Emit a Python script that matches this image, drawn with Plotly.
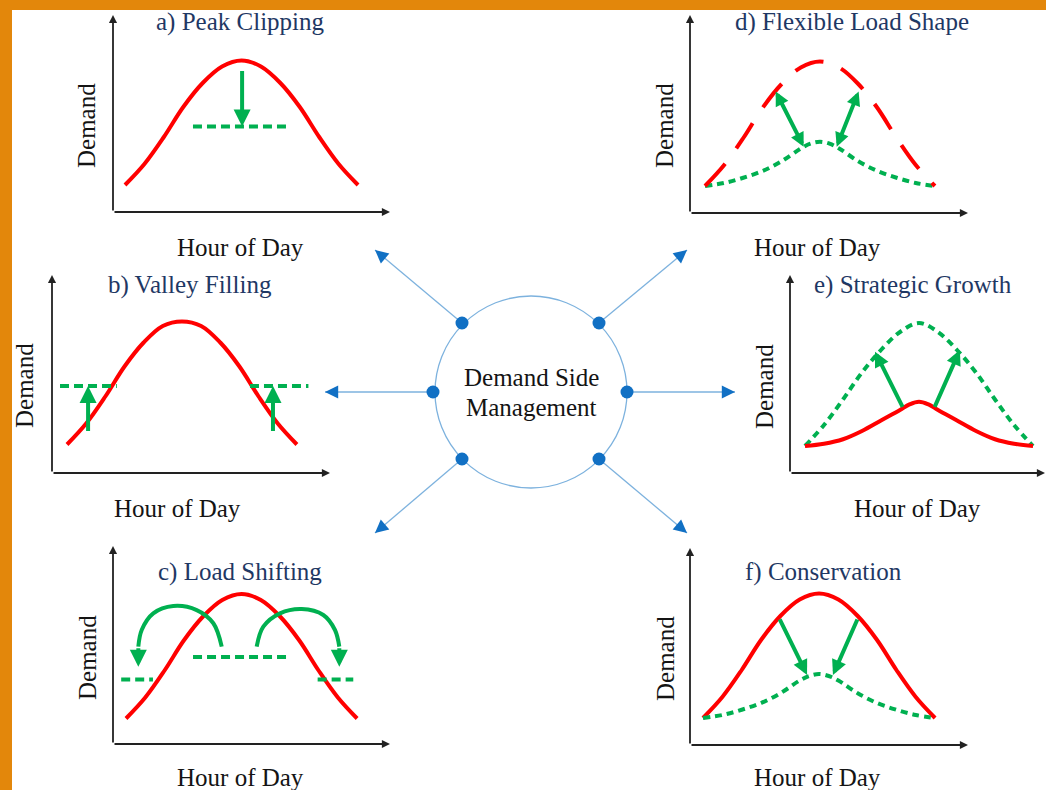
import plotly.graph_objects as go

W, H = 1046, 790
PX_PER_UNIT = 150.0  # vertical pixels per demand unit (layout constant)

# ------------------------------------------------------------------ data
HOURS = [0, 2, 4, 6, 8, 10, 12, 14, 16, 18, 20, 22, 24]
HOURS_FINE = [0, 2, 4, 6, 8, 10, 11, 12, 13, 14, 16, 18, 20, 22, 24]

# a) Peak Clipping
a_demand = [0.18, 0.32, 0.50, 0.70, 0.86, 0.97, 1.01, 0.97, 0.86, 0.70, 0.50, 0.32, 0.18]
a_clip_hours = [7.0, 16.6]
a_clip_level = 0.57
a_arrow_hour = 12.06
a_arrow_from = 0.95

# b) Valley Filling
b_demand = [0.19, 0.33, 0.51, 0.71, 0.87, 0.98, 1.01, 0.98, 0.87, 0.71, 0.51, 0.33, 0.19]
b_fill_level = 0.58
b_fill_left_hours = [-0.73, 5.2]
b_fill_right_hours = [19.1, 25.2]
b_arrow_hours = [2.2, 21.5]
b_arrow_from = 0.27

# c) Load Shifting
c_demand = [0.17, 0.31, 0.49, 0.69, 0.85, 0.96, 1.00, 0.96, 0.85, 0.69, 0.49, 0.31, 0.17]
c_peak_hours = [6.96, 16.7]
c_peak_level = 0.58
c_offpeak_left_hours = [-0.5, 2.8]
c_offpeak_right_hours = [19.9, 23.6]
c_offpeak_level = 0.43
c_left_arc_hours = [9.94, 9.07, 7.34, 4.91, 2.83, 1.63, 1.28]
c_left_arc_demand = [0.649, 0.805, 0.893, 0.92, 0.871, 0.76, 0.649]
c_right_arc_hours = [13.57, 14.26, 15.99, 18.25, 20.49, 21.7, 22.15]
c_right_arc_demand = [0.649, 0.782, 0.871, 0.90, 0.86, 0.76, 0.649]
c_arc_tip_demand = 0.515

# d) Flexible Load Shape
d_original = [0.18, 0.32, 0.50, 0.70, 0.86, 0.97, 1.01, 0.97, 0.86, 0.70, 0.50, 0.32, 0.18]
d_flexible = [0.18, 0.20, 0.235, 0.28, 0.345, 0.43, 0.462, 0.475, 0.462, 0.43, 0.345, 0.28, 0.235, 0.20, 0.18]
d_arrow_hi_hours = [7.3, 16.1]
d_arrow_hi_demand = [0.82, 0.82]
d_arrow_lo_hours = [10.3, 13.75]
d_arrow_lo_demand = [0.442, 0.442]

# e) Strategic Growth
e_original = [0.18, 0.195, 0.225, 0.28, 0.35, 0.42, 0.457, 0.475, 0.457, 0.42, 0.35, 0.28, 0.225, 0.195, 0.18]
e_growth = [0.18, 0.32, 0.49, 0.67, 0.82, 0.94, 1.00, 0.94, 0.82, 0.67, 0.49, 0.32, 0.18]
e_arrow_from_hours = [10.35, 13.58]
e_arrow_from_demand = [0.431, 0.431]
e_arrow_to_hours = [7.37, 16.3]
e_arrow_to_demand = [0.809, 0.82]

# f) Conservation
f_original = [0.18, 0.32, 0.50, 0.70, 0.86, 0.97, 1.01, 0.97, 0.86, 0.70, 0.50, 0.32, 0.18]
f_conserved = [0.18, 0.20, 0.235, 0.28, 0.345, 0.43, 0.460, 0.473, 0.460, 0.43, 0.345, 0.28, 0.235, 0.20, 0.18]
f_arrow_from_hours = [7.86, 16.03]
f_arrow_from_demand = [0.847, 0.847]
f_arrow_to_hours = [10.76, 13.44]
f_arrow_to_demand = [0.467, 0.467]

titles = ["a) Peak Clipping", "b) Valley Filling", "c) Load Shifting",
          "d) Flexible Load Shape", "e) Strategic Growth", "f) Conservation"]
x_label = "Hour of Day"
y_label = "Demand"
center_text = ["Demand Side", "Management"]

# ------------------------------------------------------------------ styles / layout constants
RED = "#FF0000"
GREEN = "#00B050"
NAVY = "#1F3864"
TXT = "#141414"
ORANGE = "#E3870B"
LIGHT_BLUE = "#7DB2DE"
DARK_BLUE = "#1170C4"
FONT = "Liberation Serif, Times New Roman, serif"
FS = 25

# panel geometry in pixels: axis origin, arrow tips, curve start, px per hour
panels = {
    "a": dict(ox=113, oy=212, xt=390, yt=15, cs=125, pph=9.71, title=(240, 22), xl=(240, 247), yl=(87, 126)),
    "b": dict(ox=52, oy=473, xt=330, yt=275, cs=67, pph=9.58, title=(190, 285), xl=(177, 508), yl=(25, 386)),
    "c": dict(ox=113, oy=744, xt=390, yt=546, cs=126, pph=9.63, title=(240, 572), xl=(240, 777), yl=(87, 658)),
    "d": dict(ox=690, oy=213, xt=968, yt=15, cs=705, pph=9.58, title=(852, 22), xl=(817, 247), yl=(665, 126)),
    "e": dict(ox=790, oy=473, xt=1062, yt=275, cs=805, pph=9.5, title=(913, 285), xl=(917, 508), yl=(765, 387)),
    "f": dict(ox=690, oy=745, xt=968, yt=548, cs=703, pph=9.67, title=(823, 572), xl=(817, 777), yl=(665, 659)),
}
order = ["a", "b", "c", "d", "e", "f"]


def px(x):
    return x / W


def py(y):
    return 1 - y / H


fig = go.Figure()
layout = dict(
    width=W, height=H, margin=dict(l=0, r=0, t=0, b=0),
    paper_bgcolor="white", plot_bgcolor="rgba(0,0,0,0)", showlegend=False,
    font=dict(family=FONT, size=FS, color=TXT),
)
annotations = []
shapes = []

# orange frame strips
shapes.append(dict(type="rect", xref="paper", yref="paper", x0=0, x1=1.0, y0=py(10), y1=1,
                   fillcolor=ORANGE, line=dict(width=0), layer="below"))
shapes.append(dict(type="rect", xref="paper", yref="paper", x0=0, x1=px(12), y0=0, y1=1,
                   fillcolor=ORANGE, line=dict(width=0), layer="below"))

axis_ids = {}
for i, k in enumerate(order):
    p = panels[k]
    n = "" if i == 0 else str(i + 1)
    xr = min(p["xt"], W)
    layout["xaxis" + n] = dict(domain=[px(p["ox"]), px(xr)],
                               range=[(p["ox"] - p["cs"]) / p["pph"], (xr - p["cs"]) / p["pph"]],
                               visible=False, fixedrange=True, anchor="y" + n)
    layout["yaxis" + n] = dict(domain=[py(p["oy"]), py(p["yt"])],
                               range=[0, (p["oy"] - p["yt"]) / PX_PER_UNIT],
                               visible=False, fixedrange=True, anchor="x" + n)
    axis_ids[k] = ("x" + n, "y" + n)
    # axis arrows
    annotations.append(dict(xref="paper", yref="paper", x=px(p["xt"]), y=py(p["oy"]), ax=-(p["xt"] - p["ox"]), ay=0,
                            axref="pixel", ayref="pixel", text="", showarrow=True, arrowhead=2, arrowsize=0.9,
                            arrowwidth=1.8, arrowcolor="#222222"))
    annotations.append(dict(xref="paper", yref="paper", x=px(p["ox"]), y=py(p["yt"]), ax=0, ay=(p["oy"] - p["yt"]),
                            axref="pixel", ayref="pixel", text="", showarrow=True, arrowhead=2, arrowsize=0.9,
                            arrowwidth=1.8, arrowcolor="#222222"))
    # texts
    annotations.append(dict(xref="paper", yref="paper", x=px(p["title"][0]), y=py(p["title"][1]),
                            text=titles[i], showarrow=False, xanchor="center", yanchor="middle",
                            font=dict(family=FONT, size=FS, color=NAVY)))
    annotations.append(dict(xref="paper", yref="paper", x=px(p["xl"][0]), y=py(p["xl"][1]),
                            text=x_label, showarrow=False, xanchor="center", yanchor="middle",
                            font=dict(family=FONT, size=FS, color=TXT)))
    annotations.append(dict(xref="paper", yref="paper", x=px(p["yl"][0]), y=py(p["yl"][1]),
                            text=y_label, showarrow=False, xanchor="center", yanchor="middle", textangle=-90,
                            font=dict(family=FONT, size=FS, color=TXT)))


def line(k, x, y, color, dash="solid", width=4, spline=True):
    xa, ya = axis_ids[k]
    fig.add_trace(go.Scatter(x=x, y=y, mode="lines", xaxis=xa, yaxis=ya, hoverinfo="skip",
                             line=dict(color=color, width=width, dash=dash,
                                       shape="spline" if spline else "linear", smoothing=1.0)))


def arrow(k, x0, y0, x1, y1, size=0.75, both=False):
    xa, ya = axis_ids[k]
    d = dict(xref=xa, yref=ya, axref=xa, ayref=ya, x=x1, y=y1, ax=x0, ay=y0, text="",
             showarrow=True, arrowhead=2, arrowsize=size, arrowwidth=4, arrowcolor=GREEN)
    if both:
        d.update(arrowside="end+start", startarrowhead=2, startarrowsize=size)
    annotations.append(d)


SHORT_DASH = "9px,5px"
DOTS = "7px,5px"
LONG_DASH = "30px,19px"

# a
line("a", HOURS, a_demand, RED)
line("a", a_clip_hours, [a_clip_level] * 2, GREEN, SHORT_DASH, spline=False)
arrow("a", a_arrow_hour, a_arrow_from, a_arrow_hour, a_clip_level, size=0.85)

# b
line("b", HOURS, b_demand, RED)
line("b", b_fill_left_hours, [b_fill_level] * 2, GREEN, SHORT_DASH, spline=False)
line("b", b_fill_right_hours, [b_fill_level] * 2, GREEN, SHORT_DASH, spline=False)
for h in b_arrow_hours:
    arrow("b", h, b_arrow_from, h, b_fill_level, size=0.85)

# c
line("c", HOURS, c_demand, RED)
line("c", c_peak_hours, [c_peak_level] * 2, GREEN, SHORT_DASH, spline=False)
line("c", c_offpeak_left_hours, [c_offpeak_level] * 2, GREEN, SHORT_DASH, spline=False)
line("c", c_offpeak_right_hours, [c_offpeak_level] * 2, GREEN, SHORT_DASH, spline=False)
line("c", c_left_arc_hours, c_left_arc_demand, GREEN)
line("c", c_right_arc_hours, c_right_arc_demand, GREEN)
arrow("c", c_left_arc_hours[-1], c_left_arc_demand[-1], c_left_arc_hours[-1], c_arc_tip_demand, size=0.85)
arrow("c", c_right_arc_hours[-1], c_right_arc_demand[-1], c_right_arc_hours[-1], c_arc_tip_demand, size=0.85)

# d
line("d", HOURS_FINE, d_flexible, GREEN, DOTS)
line("d", HOURS, d_original, RED, LONG_DASH)
for i in range(2):
    arrow("d", d_arrow_hi_hours[i], d_arrow_hi_demand[i], d_arrow_lo_hours[i], d_arrow_lo_demand[i], size=0.7, both=True)

# e
line("e", HOURS, e_growth, GREEN, DOTS)
line("e", HOURS_FINE, e_original, RED)
for i in range(2):
    arrow("e", e_arrow_from_hours[i], e_arrow_from_demand[i], e_arrow_to_hours[i], e_arrow_to_demand[i], size=0.75)

# f
line("f", HOURS, f_original, RED)
line("f", HOURS_FINE, f_conserved, GREEN, DOTS)
for i in range(2):
    arrow("f", f_arrow_from_hours[i], f_arrow_from_demand[i], f_arrow_to_hours[i], f_arrow_to_demand[i], size=0.75)

# ------------------------------------------------------------------ central hub (decoration, pixel layout)
cx, cy, r = 531, 392, 96
shapes.append(dict(type="circle", xref="paper", yref="paper", x0=px(cx - r), x1=px(cx + r),
                   y0=py(cy + r), y1=py(cy - r), line=dict(color=LIGHT_BLUE, width=1.3)))
hub_dots = [(462, 323), (599, 323), (433, 392), (627, 392), (462, 459), (599, 459)]
hub_tips = [(375, 250), (687, 250), (325, 392), (735, 392), (375, 533), (687, 533)]
for (dx, dy), (tx, ty) in zip(hub_dots, hub_tips):
    shapes.append(dict(type="line", xref="paper", yref="paper", x0=px(dx), y0=py(dy), x1=px(tx), y1=py(ty),
                       line=dict(color=LIGHT_BLUE, width=1.3)))
    vx, vy = dx - tx, dy - ty
    L = (vx ** 2 + vy ** 2) ** 0.5
    annotations.append(dict(xref="paper", yref="paper", x=px(tx), y=py(ty), ax=vx / L * 14, ay=vy / L * 14,
                            axref="pixel", ayref="pixel", text="", showarrow=True, arrowhead=2,
                            arrowsize=2.4, arrowwidth=1.1, arrowcolor=DARK_BLUE))
    rr = 6.5
    shapes.append(dict(type="circle", xref="paper", yref="paper", x0=px(dx - rr), x1=px(dx + rr),
                       y0=py(dy + rr), y1=py(dy - rr), fillcolor=DARK_BLUE, line=dict(width=0)))

annotations.append(dict(xref="paper", yref="paper", x=px(cx), y=py(377), text=center_text[0], showarrow=False,
                        xanchor="center", yanchor="middle", font=dict(family=FONT, size=FS, color=TXT)))
annotations.append(dict(xref="paper", yref="paper", x=px(cx), y=py(407), text=center_text[1], showarrow=False,
                        xanchor="center", yanchor="middle", font=dict(family=FONT, size=FS, color=TXT)))

layout["annotations"] = annotations
layout["shapes"] = shapes
fig.update_layout(**layout)

fig.write_html("out.html", config={"displayModeBar": False, "staticPlot": True},
               post_script="document.body.style.margin='0';document.body.style.overflow='hidden';")
